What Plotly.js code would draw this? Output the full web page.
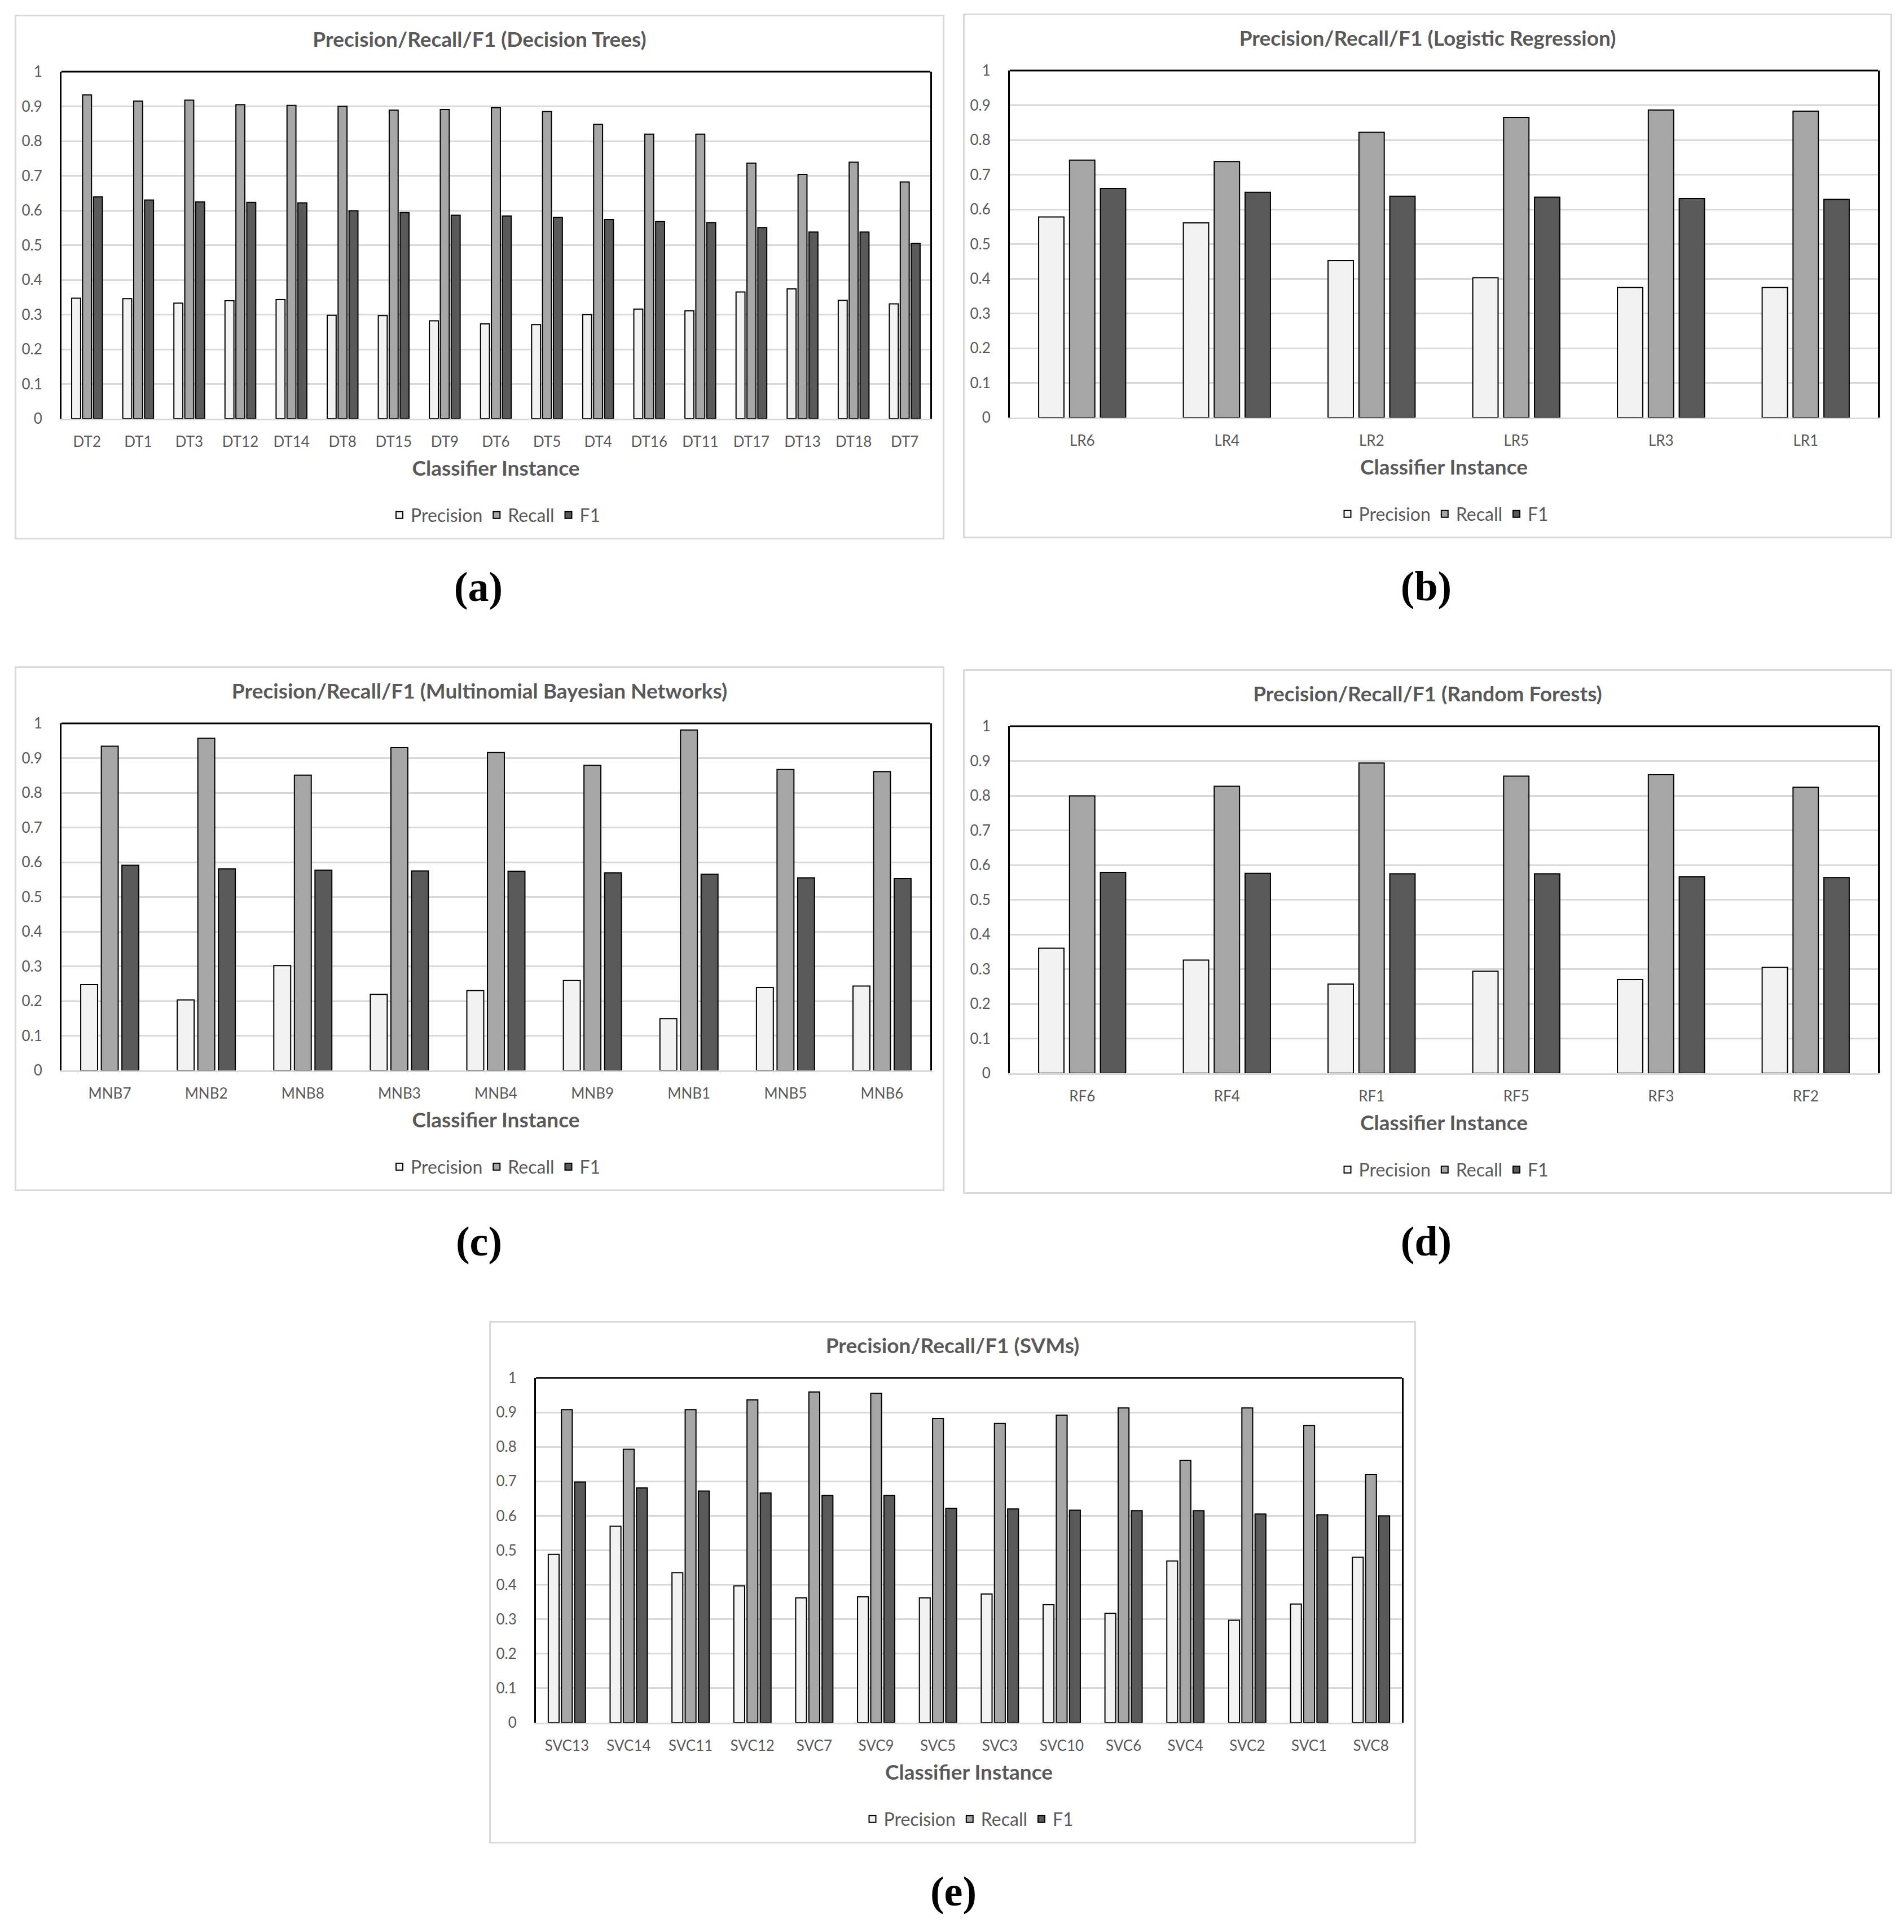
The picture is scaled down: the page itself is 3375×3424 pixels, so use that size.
<!DOCTYPE html>
<html>
<head>
<meta charset="utf-8">
<script src="https://cdn.plot.ly/plotly-3.0.1.min.js"></script>
<style>
  body { margin: 0; background: #fff; width: 3375px; height: 3424px; position: relative; overflow: hidden; }
  .frame { position: absolute; border: 3px solid #d9d9d9; box-sizing: border-box; background: #fff; }
  .tag { position: absolute; width: 200px; height: 100px; line-height: 100px; text-align: center;
         font-family: "Liberation Serif", "DejaVu Serif", serif; font-weight: bold; font-size: 74px; color: #000; }
</style>
</head>
<body>
<div class="frame" style="left:26px;top:26px;width:1648px;height:930px"><div id="chart-a"></div></div>
<div class="frame" style="left:1707px;top:24px;width:1647px;height:930px"><div id="chart-b"></div></div>
<div class="frame" style="left:26px;top:1181px;width:1648px;height:930px"><div id="chart-c"></div></div>
<div class="frame" style="left:1707px;top:1186px;width:1647px;height:930px"><div id="chart-d"></div></div>
<div class="frame" style="left:867px;top:2341px;width:1643px;height:926px"><div id="chart-e"></div></div>

<div class="tag" style="left:748px;top:990px">(a)</div>
<div class="tag" style="left:2428px;top:989px">(b)</div>
<div class="tag" style="left:749px;top:2150px">(c)</div>
<div class="tag" style="left:2428px;top:2150px">(d)</div>
<div class="tag" style="left:1590px;top:3302px">(e)</div>

<script>
// decision trees
var dtNames = ["DT2","DT1","DT3","DT12","DT14","DT8","DT15","DT9","DT6","DT5","DT4","DT16","DT11","DT17","DT13","DT18","DT7"];
var dtPrecision = [0.347,0.346,0.333,0.340,0.343,0.298,0.297,0.282,0.273,0.271,0.300,0.316,0.311,0.365,0.374,0.341,0.331];
var dtRecall = [0.933,0.915,0.918,0.905,0.903,0.900,0.889,0.891,0.896,0.885,0.848,0.820,0.820,0.736,0.704,0.739,0.682];
var dtF1 = [0.639,0.630,0.625,0.623,0.622,0.599,0.594,0.586,0.584,0.580,0.574,0.568,0.565,0.551,0.538,0.538,0.505];

// logistic regression
var lrNames = ["LR6","LR4","LR2","LR5","LR3","LR1"];
var lrPrecision = [0.578,0.561,0.452,0.403,0.375,0.375];
var lrRecall = [0.742,0.738,0.822,0.865,0.886,0.883];
var lrF1 = [0.660,0.649,0.638,0.635,0.631,0.629];

// multinomial bayes
var mnbNames = ["MNB7","MNB2","MNB8","MNB3","MNB4","MNB9","MNB1","MNB5","MNB6"];
var mnbPrecision = [0.247,0.203,0.302,0.219,0.230,0.259,0.149,0.239,0.243];
var mnbRecall = [0.934,0.957,0.851,0.930,0.916,0.879,0.981,0.867,0.861];
var mnbF1 = [0.591,0.581,0.577,0.575,0.574,0.569,0.565,0.555,0.553];

// random forests
var rfNames = ["RF6","RF4","RF1","RF5","RF3","RF2"];
var rfPrecision = [0.360,0.326,0.257,0.294,0.270,0.305];
var rfRecall = [0.799,0.827,0.894,0.856,0.860,0.824];
var rfF1 = [0.579,0.576,0.575,0.575,0.566,0.564];

// svms
var svcNames = ["SVC13","SVC14","SVC11","SVC12","SVC7","SVC9","SVC5","SVC3","SVC10","SVC6","SVC4","SVC2","SVC1","SVC8"];
var svcPrecision = [0.488,0.570,0.435,0.397,0.362,0.365,0.362,0.373,0.342,0.317,0.469,0.297,0.344,0.480];
var svcRecall = [0.908,0.793,0.908,0.936,0.959,0.955,0.882,0.868,0.892,0.913,0.761,0.913,0.862,0.720];
var svcF1 = [0.698,0.681,0.672,0.666,0.659,0.659,0.622,0.620,0.616,0.615,0.615,0.605,0.603,0.600];

function drawPanel(id, title, names, prec, rec, f1, w, h) {
  var outline = {color: '#000', width: 2};
  var data = [
    {x: names, y: prec, name: 'Precision', type: 'bar', marker: {color: '#f2f2f2', line: outline}},
    {x: names, y: rec, name: 'Recall', type: 'bar', marker: {color: '#a6a6a6', line: outline}},
    {x: names, y: f1, name: 'F1', type: 'bar', marker: {color: '#595959', line: outline}}
  ];
  var ih = h - 6;
  var layout = {
    width: w - 6, height: ih,
    margin: {l: 80, r: 22, t: 98, b: 211},
    paper_bgcolor: '#fff', plot_bgcolor: '#fff',
    font: {family: 'Lato, sans-serif', size: 26, color: '#595959'},
    title: {text: title, font: {size: 37, weight: 'bold', color: '#595959'},
            x: 0.5, xanchor: 'center', y: 1 - 41 / ih, yref: 'container', yanchor: 'middle'},
    barmode: 'group', bargap: 0.36, bargroupgap: 0.18,
    showlegend: true,
    xaxis: {showline: true, linecolor: '#d9d9d9', linewidth: 3, ticks: '', ticklabelstandoff: 16,
            title: {text: 'Classifier Instance', font: {size: 37, weight: 'bold', color: '#595959'}, standoff: 20}},
    yaxis: {range: [0, 1], dtick: 0.1, showline: true, mirror: true, linecolor: '#000', linewidth: 3,
            gridcolor: '#d9d9d9', gridwidth: 3, zeroline: false, ticks: '', ticklabelstandoff: 26},
    legend: {orientation: 'h', x: 0.5, xanchor: 'center', y: 40 / ih, yref: 'container', yanchor: 'middle',
             font: {size: 32, color: '#595959'}},
    shapes: [{type: 'line', xref: 'paper', yref: 'paper', x0: 0, x1: 1, y0: 1, y1: 1,
              line: {color: '#000', width: 3}}]
  };
  Plotly.newPlot(id, data, layout, {displayModeBar: false, staticPlot: true});
}

drawPanel('chart-a', 'Precision/Recall/F1 (Decision Trees)', dtNames, dtPrecision, dtRecall, dtF1, 1648, 930);
drawPanel('chart-b', 'Precision/Recall/F1 (Logistic Regression)', lrNames, lrPrecision, lrRecall, lrF1, 1647, 930);
drawPanel('chart-c', 'Precision/Recall/F1 (Multinomial Bayesian Networks)', mnbNames, mnbPrecision, mnbRecall, mnbF1, 1648, 930);
drawPanel('chart-d', 'Precision/Recall/F1 (Random Forests)', rfNames, rfPrecision, rfRecall, rfF1, 1647, 930);
drawPanel('chart-e', 'Precision/Recall/F1 (SVMs)', svcNames, svcPrecision, svcRecall, svcF1, 1643, 926);
</script>
</body>
</html>
